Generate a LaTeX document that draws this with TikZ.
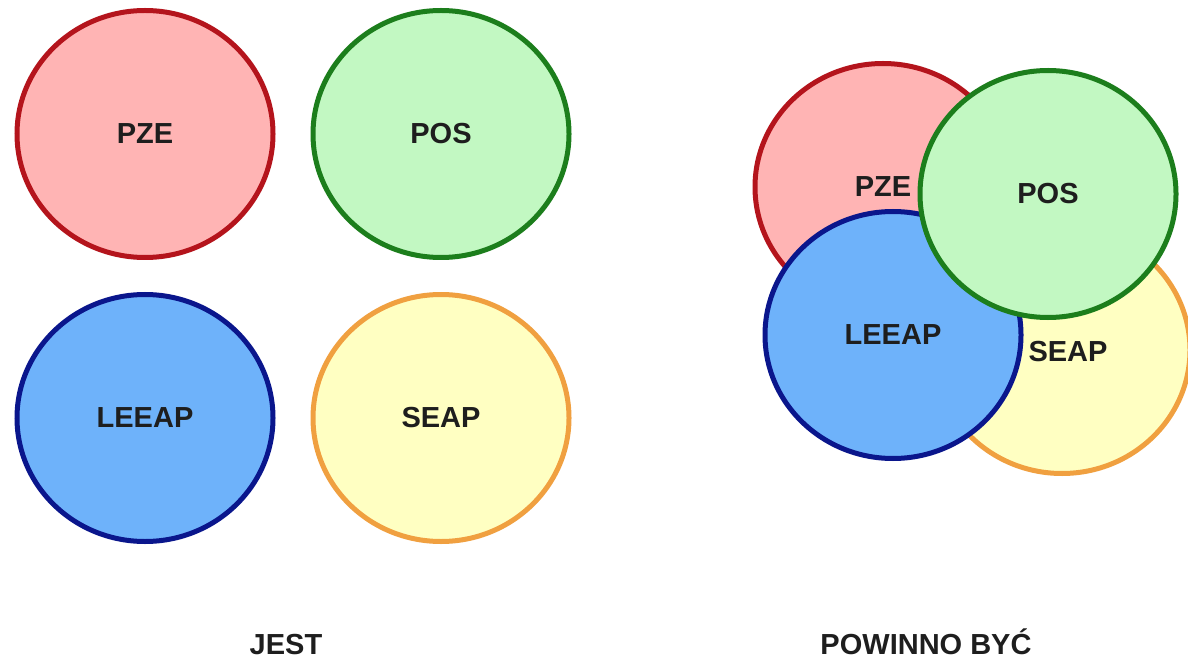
\documentclass[tikz,border=0pt]{standalone}
\usepackage{fontspec}
\setmainfont{Liberation Sans}
\usepackage{xcolor}
\usetikzlibrary{shapes.geometric}

\definecolor{pzefill}{HTML}{FFB4B4}
\definecolor{pzeline}{HTML}{B4141C}
\definecolor{posfill}{HTML}{C2F8C2}
\definecolor{posline}{HTML}{1C7E1C}
\definecolor{leefill}{HTML}{6EB2FA}
\definecolor{leeline}{HTML}{0A168C}
\definecolor{seafill}{HTML}{FFFFC2}
\definecolor{sealine}{HTML}{F0A040}
\definecolor{txt}{HTML}{1E1E1E}

\begin{document}
\begin{tikzpicture}[x=1pt, y=-1pt,
  bubble/.style={ellipse, line width=5pt, minimum width=256pt,
    minimum height=247pt, inner sep=0pt, text=txt,
    font=\fontsize{29}{32}\selectfont\bfseries},
  capt/.style={text=txt, anchor=base, inner sep=0pt,
    font=\fontsize{29}{32}\selectfont\bfseries}
]
\useasboundingbox (0,0) rectangle (1188,660);

% jest
\node[bubble, fill=pzefill, draw=pzeline] (pzeA) at (145,134) {PZE};
\node[bubble, fill=posfill, draw=posline] (posA) at (441,134) {POS};
\node[bubble, fill=leefill, draw=leeline] (leeA) at (145,418) {LEEAP};
\node[bubble, fill=seafill, draw=sealine] (seaA) at (441,418) {SEAP};

% powinno byc
\node[bubble, fill=pzefill, draw=pzeline] (pzeB) at (883,187) {PZE};
\node[bubble, fill=seafill, draw=sealine] (seaB) at (1062,350) {};
\node[bubble, fill=leefill, draw=leeline] (leeB) at (893,335) {LEEAP};
\node[bubble, fill=posfill, draw=posline] (posB) at (1048,194) {POS};
\node[text=txt, font=\fontsize{29}{32}\selectfont\bfseries]
  (seaBt) at (1068,352) {SEAP};

\node[capt] (jest) at (286,654) {JEST};
\node[capt] (pow) at (926,654) {POWINNO BYĆ};
\end{tikzpicture}
\end{document}
